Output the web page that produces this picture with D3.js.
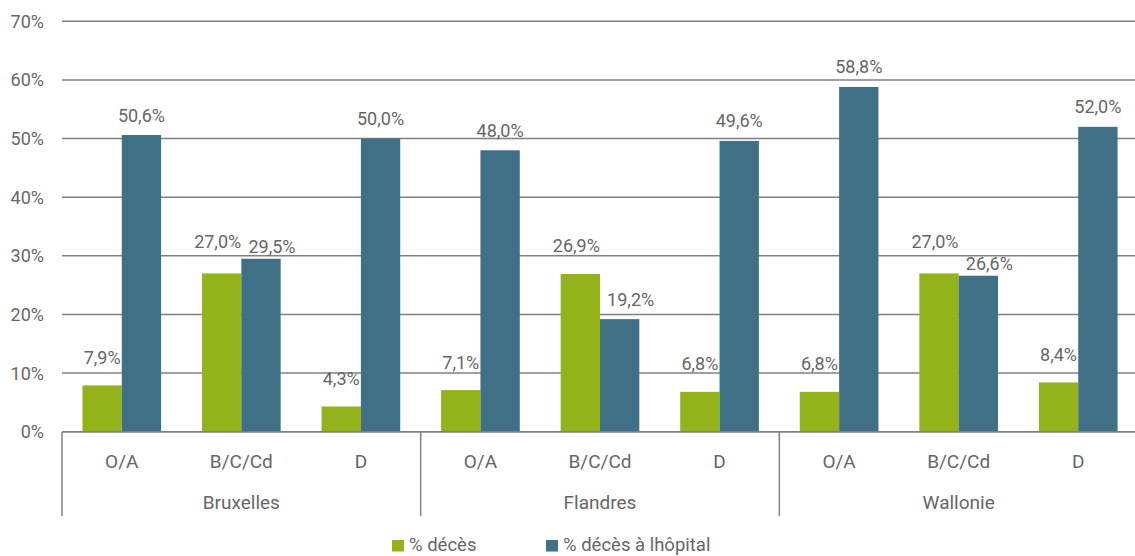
<!DOCTYPE html>
<html>
<head>
<meta charset="utf-8">
<script src="https://cdn.jsdelivr.net/npm/d3@7/dist/d3.min.js"></script>
<style>
  html, body { margin: 0; padding: 0; background: #fff; }
  svg { display: block; }
  text { font-family: "Roboto", "Liberation Sans Narrow", "DejaVu Sans Condensed", sans-serif; fill: #666; }
</style>
</head>
<body>
<svg id="chart" width="1135" height="556"></svg>
<script>
const regions = ["Bruxelles", "Flandres", "Wallonie"];
const classes = ["O/A", "B/C/Cd", "D"];
const seriesNames = ["% décès", "% décès à lhôpital"];
const deces =        [7.9, 27.0, 4.3, 7.1, 26.9, 6.8, 6.8, 27.0, 8.4];
const decesHopital = [50.6, 29.5, 50.0, 48.0, 19.2, 49.6, 58.8, 26.6, 52.0];
const yTicks = [0, 10, 20, 30, 40, 50, 60, 70];
const colors = ["#94b21a", "#3f7085"];

(function () {
const svg = d3.select("#chart");
const pLeft = 62, pRight = 1138, pTop = 21.3, pBottom = 431.7;

const cats = [];
regions.forEach(r => classes.forEach(c => cats.push(r + "|" + c)));

const x = d3.scaleBand().domain(cats).range([pLeft, pRight]).paddingInner(0).paddingOuter(0);
const inner = d3.scaleBand().domain([0, 1]).range([0, x.bandwidth()]).paddingOuter(0.52).paddingInner(0);
const y = d3.scaleLinear().domain([0, 70]).range([pBottom, pTop]);

const fmt = v => v.toFixed(1).replace(".", ",") + "%";

// gridlines
svg.append("g").selectAll("line").data(yTicks).join("line")
  .attr("x1", pLeft).attr("x2", 1135)
  .attr("y1", d => y(d)).attr("y2", d => y(d))
  .attr("stroke", "#808080").attr("stroke-width", 1.5);

// y tick labels
svg.append("g").selectAll("text").data(yTicks).join("text")
  .attr("x", 44).attr("y", d => y(d) + 6.5)
  .attr("text-anchor", "end").attr("font-size", 18)
  .text(d => d + "%");

// bars
const data = cats.map((c, i) => ({ cat: c, vals: [deces[i], decesHopital[i]] }));
const gBars = svg.append("g");
data.forEach(d => {
  d.vals.forEach((v, s) => {
    gBars.append("rect")
      .attr("x", x(d.cat) + inner(s))
      .attr("y", y(v))
      .attr("width", inner.bandwidth())
      .attr("height", y(0) - y(v))
      .attr("fill", colors[s]);
  });
});

// value labels
const gLab = svg.append("g");
data.forEach(d => {
  const cy = [y(d.vals[0]) - 28, y(d.vals[1]) - 20];
  const dx = [0, 0];
  if (Math.abs(cy[0] - cy[1]) < 70) {
    dx[0] = -4; dx[1] = 11;
    if (Math.abs(cy[0] - cy[1]) < 16) { cy[0] -= 4; cy[1] += 8; }
  }
  d.vals.forEach((v, s) => {
    gLab.append("text")
      .attr("x", x(d.cat) + inner(s) + inner.bandwidth() / 2 + dx[s])
      .attr("y", cy[s] + 6.5)
      .attr("text-anchor", "middle").attr("font-size", 18)
      .text(fmt(v));
  });
});

// baseline axis
svg.append("line").attr("x1", pLeft).attr("x2", 1135)
  .attr("y1", y(0)).attr("y2", y(0))
  .attr("stroke", "#808080").attr("stroke-width", 1.5);

// category labels
svg.append("g").selectAll("text").data(cats).join("text")
  .attr("x", d => x(d) + x.bandwidth() / 2)
  .attr("y", 468)
  .attr("text-anchor", "middle").attr("font-size", 19)
  .text(d => d.split("|")[1]);

// region separators
const seps = [0, 3, 6, 9].map(i => pLeft + i * x.bandwidth());
svg.append("g").selectAll("line").data(seps).join("line")
  .attr("x1", d => d).attr("x2", d => d)
  .attr("y1", y(0)).attr("y2", 516)
  .attr("stroke", "#808080").attr("stroke-width", 1.5);

// region labels
svg.append("g").selectAll("text").data(regions).join("text")
  .attr("x", (d, i) => pLeft + (i * 3 + 1.5) * x.bandwidth())
  .attr("y", 509)
  .attr("text-anchor", "middle").attr("font-size", 19)
  .text(d => d);

// legend
const legX = [392, 546];
const leg = svg.append("g");
seriesNames.forEach((n, i) => {
  leg.append("rect").attr("x", legX[i]).attr("y", 540).attr("width", 12).attr("height", 11.5).attr("fill", colors[i]);
  leg.append("text").attr("x", legX[i] + 17).attr("y", 550.5).attr("font-size", 18.5).text(n);
});
})();
</script>
</body>
</html>
